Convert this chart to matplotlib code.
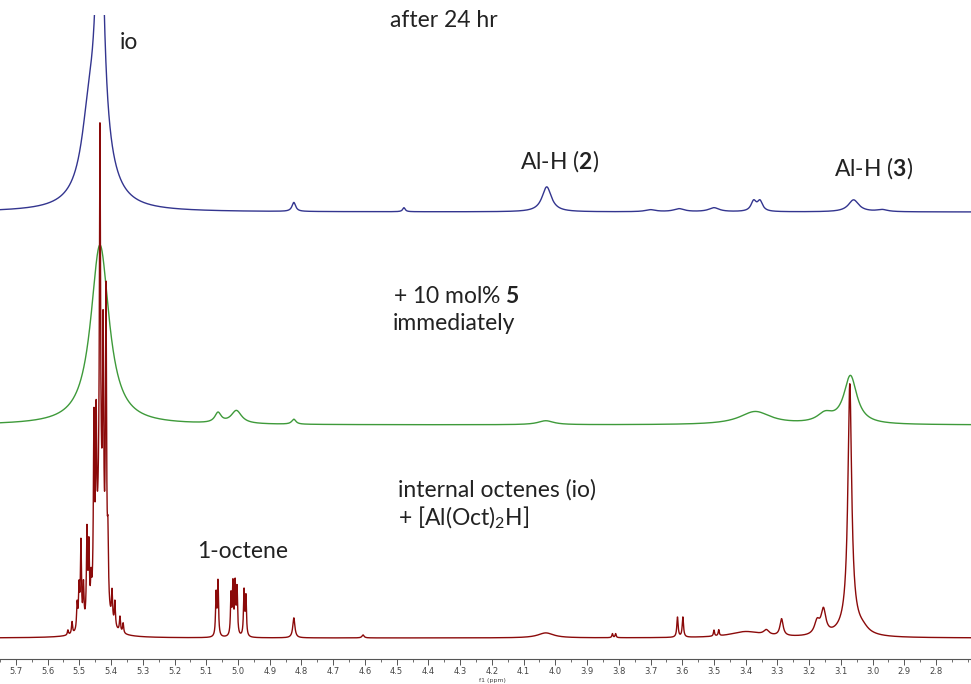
import numpy as np
import matplotlib
matplotlib.use("Agg")
import matplotlib.pyplot as plt
from matplotlib.ticker import MultipleLocator

plt.rcParams["font.family"] = ["Lato", "DejaVu Sans"]
plt.rcParams["mathtext.fontset"] = "custom"
plt.rcParams["mathtext.rm"] = "Lato"
plt.rcParams["mathtext.bf"] = "Lato:bold"

# peak lists: shift (ppm), height (px above baseline), half width (ppm)
blue_ppm = [5.435, 5.44, 5.47, 4.824, 4.477, 4.027, 3.70, 3.61, 3.50, 3.375, 3.355, 3.06, 2.97]
blue_height = [300, 65, 55, 9, 4, 25, 2, 3, 4, 10, 10, 12, 2]
blue_width = [0.012, 0.045, 0.028, 0.007, 0.005, 0.018, 0.02, 0.02, 0.02, 0.01, 0.01, 0.02, 0.02]

green_ppm = [5.435, 5.063, 5.005, 4.824, 4.03, 3.37, 3.15, 3.07]
green_height = [180, 10, 13, 5, 4, 13, 9, 48]
green_width = [0.035, 0.012, 0.02, 0.008, 0.03, 0.06, 0.03, 0.025]

red_ppm = [5.536, 5.523, 5.507, 5.501, 5.495, 5.487, 5.476, 5.470, 5.463,
           5.454, 5.447, 5.435, 5.435, 5.425, 5.416, 5.410, 5.397, 5.388,
           5.372, 5.362,
           5.069, 5.063, 5.022, 5.016, 5.009, 5.003, 4.981, 4.975,
           4.824, 4.606, 4.03, 3.82, 3.81, 3.615, 3.598, 3.50, 3.485,
           3.40, 3.335, 3.287, 3.175, 3.155, 3.072, 3.07, 3.03]
red_height = [5, 12, 26, 40, 85, 40, 90, 70, 30,
              175, 150, 120, 376, 225, 300, 60, 30, 25,
              15, 10,
              42, 54, 40, 50, 50, 46, 45, 39,
              20, 3, 5, 4, 4, 20, 20, 6, 6,
              6, 5, 17, 13, 24, 235, 18, 4]
red_width = [0.002, 0.002, 0.002, 0.002, 0.002, 0.002, 0.002, 0.002, 0.002,
             0.002, 0.002, 0.012, 0.002, 0.002, 0.002, 0.002, 0.002, 0.002,
             0.002, 0.002,
             0.002, 0.002, 0.002, 0.002, 0.002, 0.002, 0.002, 0.002,
             0.004, 0.004, 0.03, 0.002, 0.002, 0.0025, 0.0025, 0.002, 0.002,
             0.06, 0.01, 0.006, 0.01, 0.009, 0.007, 0.03, 0.02]

baselines = {"blue": 447, "green": 234, "red": 21}
tick_ppm = np.round(np.arange(2.8, 5.71, 0.1), 1)


def spectrum(x, ppm, height, width):
    y = np.zeros_like(x)
    for c, h, w in zip(ppm, height, width):
        y += h / (1 + ((x - c) / w) ** 2)
    return y


x = np.linspace(5.75, 2.69, 40000)

fig = plt.figure(figsize=(9.71, 6.84), dpi=100)
ax = fig.add_axes([0, 25 / 684, 1, (659 - 15) / 684])

ax.plot(x, baselines["blue"] + spectrum(x, blue_ppm, blue_height, blue_width),
        color="#33358f", lw=1.0)
ax.plot(x, baselines["green"] + spectrum(x, green_ppm, green_height, green_width),
        color="#3e9a3a", lw=1.0)
ax.plot(x, baselines["red"] + spectrum(x, red_ppm, red_height, red_width),
        color="#8b0a0a", lw=1.0)

ax.set_xlim(5.75, 2.69)
ax.set_ylim(0, 644)
for s in ["left", "right", "top"]:
    ax.spines[s].set_visible(False)
ax.spines["bottom"].set_color("#555555")
ax.spines["bottom"].set_linewidth(0.8)
ax.set_yticks([])
ax.set_xticks(tick_ppm)
ax.set_xticklabels([f"{t:.1f}" for t in tick_ppm], fontfamily="DejaVu Sans")
ax.xaxis.set_minor_locator(MultipleLocator(0.05))
ax.tick_params(axis="x", which="major", direction="out", length=4, width=0.7,
               color="#555555", labelsize=6, labelcolor="#444444", pad=1.5)
ax.tick_params(axis="x", which="minor", direction="out", length=2.5, width=0.6,
               color="#555555")
fig.text(492 / 971, 1 / 684, "f1 (ppm)", fontsize=4.5, color="#444444",
         fontfamily="DejaVu Sans", ha="center", va="bottom")

txt = dict(fontsize=16.5, color="#222222", va="center", ha="left")
ax.text(5.372, 617, "io", **txt)
ax.text(4.521, 639, "after 24 hr", **txt)
ax.text(4.111, 498, r"Al-H ($\mathbf{2}$)", **txt)
ax.text(3.122, 491, r"Al-H ($\mathbf{3}$)", **txt)
ax.text(4.511, 363, r"+ 10 mol% $\mathbf{5}$", **txt)
ax.text(4.511, 336, "immediately", **txt)
ax.text(4.496, 169, "internal octenes (io)", **txt)
ax.text(4.496, 141, r"+ [Al(Oct)$_2$H]", **txt)
ax.text(5.129, 107, "1-octene", **txt)

fig.savefig("out.png", dpi=100)
